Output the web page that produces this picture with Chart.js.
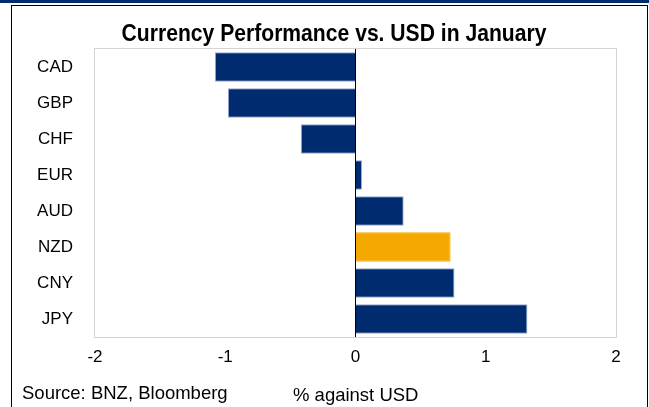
<!DOCTYPE html>
<html>
<head>
<meta charset="utf-8">
<script src="https://cdn.jsdelivr.net/npm/chart.js@4"></script>
<style>
  body { margin: 0; background: #fff; }
  #wrap { width: 649px; height: 407px; position: relative; }
</style>
</head>
<body>
<div id="wrap"><canvas id="fxChart" width="649" height="407"></canvas></div>
<script>
// data
const currencies = ['CAD', 'GBP', 'CHF', 'EUR', 'AUD', 'NZD', 'CNY', 'JPY'];
const changeVsUsd = [-1.08, -0.98, -0.42, 0.05, 0.37, 0.73, 0.76, 1.32];
const xTicks = [-2, -1, 0, 1, 2];
const chartTitle = 'Currency Performance vs. USD in January';

const navy = '#002b6f';
const gold = '#f5a800';
const font = "'Liberation Sans', Arial, sans-serif";

// frame, band, title, plot border and footer text
const framePlugin = {
  id: 'frame',
  afterDraw(chart) {
    const c = chart.ctx;
    const a = chart.chartArea;
    c.save();
    c.fillStyle = navy;
    c.fillRect(0, 0, 649, 3);
    c.strokeStyle = '#000';
    c.lineWidth = 1;
    c.strokeRect(11.5, 5.5, 636, 420);
    c.strokeStyle = '#d4d4d4';
    c.strokeRect(a.left - 0.5, a.top - 0.5, a.right - a.left + 1, a.bottom - a.top + 1);

    // title is a bit condensed in the original
    c.fillStyle = '#000';
    c.save();
    c.translate(334, 34);
    c.scale(0.88, 1);
    c.font = 'bold 24px ' + font;
    c.textAlign = 'center';
    c.textBaseline = 'middle';
    c.fillText(chartTitle, 0, 0);
    c.restore();

    c.font = '18.5px ' + font;
    c.textBaseline = 'middle';
    c.textAlign = 'left';
    c.fillText('Source: BNZ, Bloomberg', 22, 394);
    c.fillText('% against USD', 293, 396);
    c.restore();
  }
};

new Chart(document.getElementById('fxChart'), {
  type: 'bar',
  data: {
    labels: currencies,
    datasets: [{
      data: changeVsUsd,
      backgroundColor: currencies.map(c => c === 'NZD' ? gold : navy),
      borderColor: currencies.map(c => c === 'NZD' ? gold : '#9aabd0'),
      borderWidth: 1,
      borderSkipped: 'start',
      barPercentage: 0.82,
      categoryPercentage: 1
    }]
  },
  options: {
    indexAxis: 'y',
    responsive: false,
    animation: false,
    layout: { padding: { left: 11, right: 33, top: 49, bottom: 0 } },
    plugins: {
      legend: { display: false },
      tooltip: { enabled: false },
      title: { display: false }
    },
    scales: {
      x: {
        min: -2,
        max: 2,
        afterBuildTicks(scale) { scale.ticks = xTicks.map(v => ({ value: v })); },
        afterFit(scale) { scale.height = 70; },
        border: { display: false },
        grid: {
          drawTicks: false,
          color: ctx => ctx.tick && ctx.tick.value === 0 ? '#000' : 'transparent'
        },
        ticks: { color: '#000', padding: 10, font: { family: font, size: 17 } }
      },
      y: {
        afterFit(scale) { scale.width = 84; },
        border: { display: false },
        grid: { display: false, drawTicks: false },
        ticks: { color: '#000', padding: 22, font: { family: font, size: 17 } }
      }
    }
  },
  plugins: [framePlugin]
});
</script>
</body>
</html>
